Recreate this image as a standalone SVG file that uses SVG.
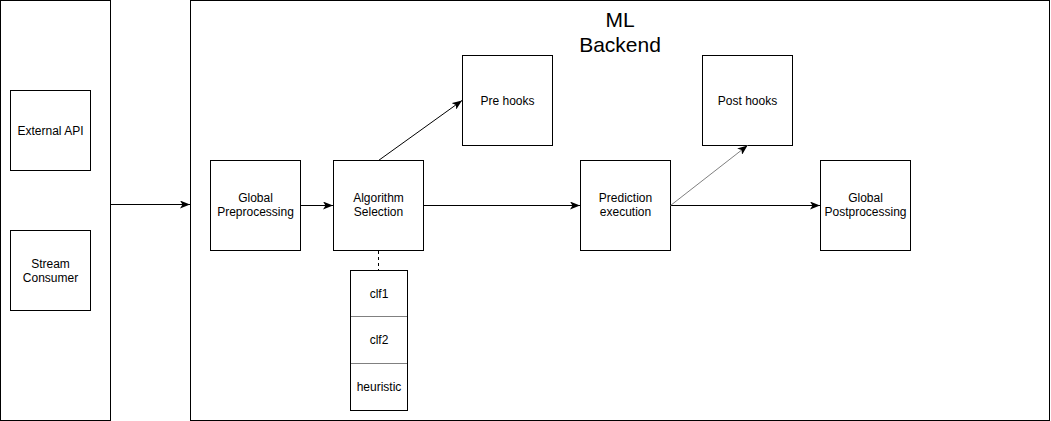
<svg xmlns="http://www.w3.org/2000/svg" width="1051" height="421" viewBox="0 0 1051 421">
<defs>
<style>
.box{fill:#fff;stroke:#000;stroke-width:1}
.lbl{font-family:"Liberation Sans",Arial,sans-serif;font-size:12px;fill:#000;text-anchor:middle}
.title{font-family:"Liberation Sans",Arial,sans-serif;font-size:21px;fill:#000;text-anchor:middle}
.edge{fill:none;stroke:#000;stroke-width:1}
.gray{stroke:#808080}
.div{stroke:#808080;stroke-width:1}
</style>
<marker id="arr" viewBox="0 0 10 8" refX="10" refY="4" markerWidth="10" markerHeight="8" markerUnits="userSpaceOnUse" orient="auto">
<path d="M0,0 L10,4 L0,8 L2.5,4 z" fill="#000"/>
</marker>
</defs>
<rect x="0" y="0" width="1051" height="421" fill="#fff"/>
<g id="sources">
<rect class="box" x="0.5" y="0.5" width="110" height="420"/>
</g>
<g id="external-api">
<rect class="box" x="10.5" y="90.5" width="80" height="80"/>
<text class="lbl" x="50.5" y="134.5">External API</text>
</g>
<g id="stream-consumer">
<rect class="box" x="10.5" y="230.5" width="80" height="80"/>
<text class="lbl" x="50.5" y="267.5">Stream</text>
<text class="lbl" x="50.5" y="281.5">Consumer</text>
</g>
<g id="ml-backend">
<rect class="box" x="190.5" y="0.5" width="859" height="420"/>
<text class="title" x="620" y="27">ML</text>
<text class="title" x="620" y="52">Backend</text>
</g>
<g id="global-preprocessing">
<rect class="box" x="210.5" y="160.5" width="90" height="90"/>
<text class="lbl" x="255.5" y="202">Global</text>
<text class="lbl" x="255.5" y="216">Preprocessing</text>
</g>
<g id="algorithm-selection">
<rect class="box" x="333.5" y="160.5" width="90" height="90"/>
<text class="lbl" x="378.5" y="202">Algorithm</text>
<text class="lbl" x="378.5" y="216">Selection</text>
</g>
<g id="algorithm-list">
<rect class="box" x="350.5" y="270.5" width="57" height="140"/>
<line class="div" x1="351" y1="316.5" x2="407" y2="316.5"/>
<line class="div" x1="351" y1="363.5" x2="407" y2="363.5"/>
<text class="lbl" x="379" y="297.5">clf1</text>
<text class="lbl" x="379" y="344">clf2</text>
<text class="lbl" x="379" y="390.5">heuristic</text>
</g>
<g id="pre-hooks">
<rect class="box" x="462.5" y="55.5" width="90" height="90"/>
<text class="lbl" x="507.5" y="104.5">Pre hooks</text>
</g>
<g id="prediction-execution">
<rect class="box" x="580.5" y="160.5" width="90" height="90"/>
<text class="lbl" x="625.5" y="202">Prediction</text>
<text class="lbl" x="625.5" y="216">execution</text>
</g>
<g id="post-hooks">
<rect class="box" x="702.5" y="55.5" width="90" height="90"/>
<text class="lbl" x="747.5" y="104.5">Post hooks</text>
</g>
<g id="global-postprocessing">
<rect class="box" x="820.5" y="160.5" width="90" height="90"/>
<text class="lbl" x="865.5" y="202">Global</text>
<text class="lbl" x="865.5" y="216">Postprocessing</text>
</g>
<g id="connectors">
<line class="edge" x1="110.5" y1="204.5" x2="190" y2="204.5" marker-end="url(#arr)"/>
<line class="edge" x1="300.5" y1="205.5" x2="333" y2="205.5" marker-end="url(#arr)"/>
<line class="edge" x1="423.5" y1="205.5" x2="580" y2="205.5" marker-end="url(#arr)"/>
<line class="edge" x1="670.5" y1="205.5" x2="820" y2="205.5" marker-end="url(#arr)"/>
<line class="edge" x1="378.5" y1="160.5" x2="462" y2="100.5" marker-end="url(#arr)"/>
<line class="edge gray" x1="670.5" y1="205.5" x2="747.5" y2="145.5" marker-end="url(#arr)"/>
<line class="edge" x1="378.5" y1="251" x2="378.5" y2="270" stroke-dasharray="3,3"/>
</g>
</svg>
